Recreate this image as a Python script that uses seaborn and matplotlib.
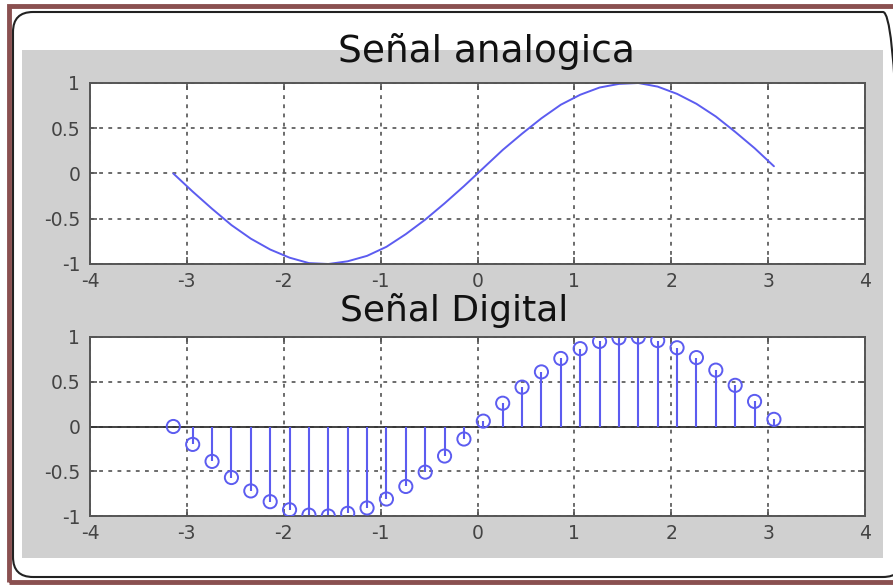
import matplotlib
matplotlib.use('Agg')
import matplotlib.pyplot as plt
from matplotlib.patches import Rectangle, FancyBboxPatch
import seaborn as sns
import pandas as pd

# Sample points (step 0.2 starting at -pi) and the signal values
x_vals = [-3.14, -2.94, -2.74, -2.54, -2.34, -2.14, -1.94, -1.74, -1.54, -1.34,
          -1.14, -0.94, -0.74, -0.54, -0.34, -0.14, 0.06, 0.26, 0.46, 0.66,
          0.86, 1.06, 1.26, 1.46, 1.66, 1.86, 2.06, 2.26, 2.46, 2.66, 2.86, 3.06]
y_vals = [0.00, -0.20, -0.39, -0.57, -0.72, -0.84, -0.93, -0.99, -1.00, -0.97,
          -0.91, -0.81, -0.67, -0.51, -0.33, -0.14, 0.06, 0.26, 0.44, 0.61,
          0.76, 0.87, 0.95, 0.99, 1.00, 0.96, 0.88, 0.77, 0.63, 0.46, 0.28, 0.08]
x_ticks = [-4, -3, -2, -1, 0, 1, 2, 3, 4]
y_ticks = [-1, -0.5, 0, 0.5, 1]
y_tick_labels = ['-1', '-0.5', '0', '0.5', '1']
titles = ['Señal analogica', 'Señal Digital']

df = pd.DataFrame({'x': x_vals, 'y': y_vals})

sns.set_theme(style='white')
plt.rcParams['font.family'] = ['DejaVu Sans']

W, H = 893, 585
fig = plt.figure(figsize=(W / 100, H / 100), dpi=100)
fig.patch.set_facecolor('white')

def fx(px):
    return px / W

def fy(py):
    return 1 - py / H

# pixel -> inch helpers for the frame (top-left origin)
def ix(px):
    return px / 100

def iy(py):
    return (H - py) / 100

# outer frame
fig.patches.append(Rectangle((ix(9), iy(582)), ix(910 - 9), (582 - 6) / 100,
                             transform=fig.dpi_scale_trans, fill=False,
                             edgecolor='#8a5050', linewidth=3.5, zorder=-3))
fig.patches.append(FancyBboxPatch((ix(13), iy(577)), ix(903 - 13), (577 - 12) / 100,
                                  boxstyle='round,pad=0,rounding_size=0.2',
                                  transform=fig.dpi_scale_trans, fill=False,
                                  edgecolor='#222222', linewidth=1.5, zorder=-3))
# gray panel
fig.patches.append(Rectangle((ix(22), iy(558)), ix(883 - 22), (558 - 50) / 100,
                             transform=fig.dpi_scale_trans, facecolor='#d0d0d0',
                             edgecolor='none', zorder=-2))

blue = '#5c5cf0'
axis_col = '#555555'

ax1 = fig.add_axes([fx(90), fy(264), fx(865 - 90), (264 - 83) / H])
ax2 = fig.add_axes([fx(90), fy(516), fx(865 - 90), (516 - 337) / H])

sns.lineplot(data=df, x='x', y='y', ax=ax1, color=blue, linewidth=1.4)

ax2.axhline(0, color='#333333', linewidth=1.3, zorder=1)
ax2.vlines(df['x'], 0, df['y'], color=blue, linewidth=1.5, zorder=2)
sns.scatterplot(data=df, x='x', y='y', ax=ax2, marker='o', s=90,
                facecolor='none', edgecolor=blue, linewidth=1.4, zorder=3)

for ax in (ax1, ax2):
    ax.set_zorder(2)
    ax.set_facecolor('white')
    ax.set_xlim(-4, 4)
    ax.set_ylim(-1, 1)
    ax.set_xticks(x_ticks)
    ax.set_xticklabels([str(t) for t in x_ticks])
    ax.set_yticks(y_ticks)
    ax.set_yticklabels(y_tick_labels)
    ax.set_xlabel('')
    ax.set_ylabel('')
    ax.grid(True, color='#444444', linestyle=(0, (2.5, 3.5)), linewidth=1.1)
    ax.set_axisbelow(True)
    for s in ax.spines.values():
        s.set_color(axis_col)
        s.set_linewidth(1.4)
        s.set_visible(True)
    ax.tick_params(direction='in', length=5, width=1.2, color=axis_col,
                   labelcolor='#444444', labelsize=13.5,
                   top=True, right=True, bottom=True, left=True)
    ax.tick_params(axis='x', pad=6)
    ax.tick_params(axis='y', pad=7)

fig.text(fx(486), fy(62), titles[0], ha='center', va='baseline',
         fontsize=27, color='#111111', zorder=3)
fig.text(fx(454), fy(321), titles[1], ha='center', va='baseline',
         fontsize=26, color='#111111', zorder=3)

fig.savefig('out.png', dpi=100)
